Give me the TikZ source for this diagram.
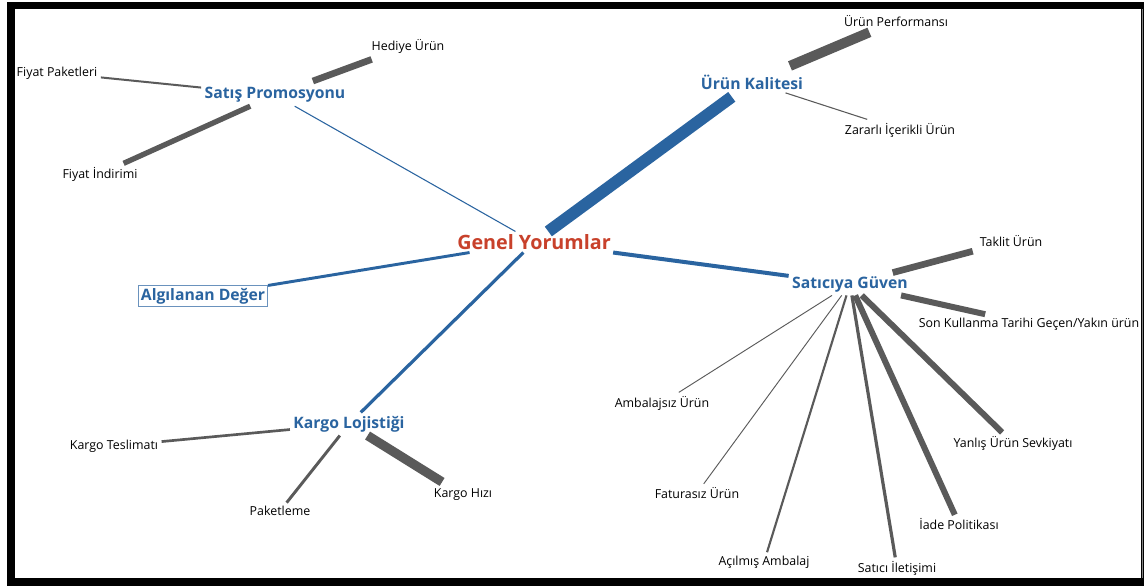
\documentclass[tikz,border=0pt]{standalone}
\usepackage{fontspec}
\setmainfont{Open Sans}
\definecolor{hubred}{HTML}{C8412B}
\definecolor{subblue}{HTML}{2A64A0}
\definecolor{leafgray}{HTML}{5A5A5A}
\begin{document}
\begin{tikzpicture}[x=0.75pt,y=-0.75pt,
    hub/.style={text=hubred,font=\bfseries\fontsize{14.8}{17}\selectfont,inner sep=2pt},
    sub/.style={text=subblue,font=\bfseries\fontsize{11.8}{14}\selectfont,inner sep=2.5pt},
    leaf/.style={font=\fontsize{9.3}{11}\selectfont,inner sep=2.5pt},
    bl/.style={draw=subblue},
    gr/.style={draw=leafgray}]
    \useasboundingbox(0,0)rectangle(1144,587);
    % frame
    \fill[black](7,2)rectangle(1144,586);
    \fill[white](15,9)rectangle(1141,578);
    \draw[gray,line width=0.6pt](1142,9)--(1142,578);

    % main topic and groups
    \node[hub](gen)at(534,242){Genel Yorumlar};
    \node[sub](sp)at(275,95){Satış Promosyonu};
    \node[sub](uk)at(752,82){Ürün Kalitesi};
    \node[sub,draw=subblue!70,line width=0.5pt,inner sep=2pt](ad)at(203,296){Algılanan Değer};
    \node[sub](kl)at(349,424){Kargo Lojistiği};
    \node[sub](sg)at(850,284){Satıcıya Güven};

    % leaves
    \node[leaf](hed)at(408,46){Hediye Ürün};
    \node[leaf](fpk)at(57,73){Fiyat Paketleri};
    \node[leaf](fin)at(100,174){Fiyat İndirimi};
    \node[leaf](perf)at(896,21){Ürün Performansı};
    \node[leaf](zar)at(900,130){Zararlı İçerikli Ürün};
    \node[leaf](tak)at(1011,241){Taklit Ürün};
    \node[leaf](skt)at(1029,324){Son Kullanma Tarihi Geçen/Yakın ürün};
    \node[leaf](amb)at(662,403){Ambalajsız Ürün};
    \node[leaf](fat)at(697,493){Faturasız Ürün};
    \node[leaf](acm)at(764,562){Açılmış Ambalaj};
    \node[leaf](sil)at(897,568){Satıcı İletişimi};
    \node[leaf](iad)at(959,524){İade Politikası};
    \node[leaf](yan)at(1013,443){Yanlış Ürün Sevkiyatı};
    \node[leaf](kte)at(114,446){Kargo Teslimatı};
    \node[leaf](pak)at(280,511){Paketleme};
    \node[leaf](khz)at(463,495){Kargo Hızı};

    % hub to groups
    \draw[bl,line width=0.8pt](gen)--(sp);
    \draw[bl,line width=9pt,shorten >=5pt](gen)--(uk);
    \draw[bl,line width=2.2pt](gen)--(ad);
    \draw[bl,line width=2.4pt](gen)--(kl);
    \draw[bl,line width=3pt](gen)--(sg);

    % groups to leaves
    \draw[gr,line width=5pt,shorten <=6pt,shorten >=6pt](sp)--(hed);
    \draw[gr,line width=1.5pt](sp)--(fpk);
    \draw[gr,line width=4pt](sp)--(fin);
    \draw[gr,line width=7.5pt,shorten <=10pt,shorten >=4pt](uk)--(perf);
    \draw[gr,line width=0.8pt](uk)--(zar);
    \draw[gr,line width=2pt](kl)--(kte);
    \draw[gr,line width=2.2pt](kl)--(pak);
    \draw[gr,line width=7pt,shorten >=5pt](kl)--(khz);
    \draw[gr,line width=5pt,shorten >=3pt](sg)--(tak);
    \draw[gr,line width=4.5pt](sg)--(skt);
    \draw[gr,line width=0.7pt](sg)--(amb);
    \draw[gr,line width=0.7pt](sg)--(fat);
    \draw[gr,line width=1.6pt](sg)--(acm);
    \draw[gr,line width=2.4pt](sg)--(sil);
    \draw[gr,line width=4.5pt](sg)--(iad);
    \draw[gr,line width=4.5pt](sg)--(yan);
\end{tikzpicture}
\end{document}
